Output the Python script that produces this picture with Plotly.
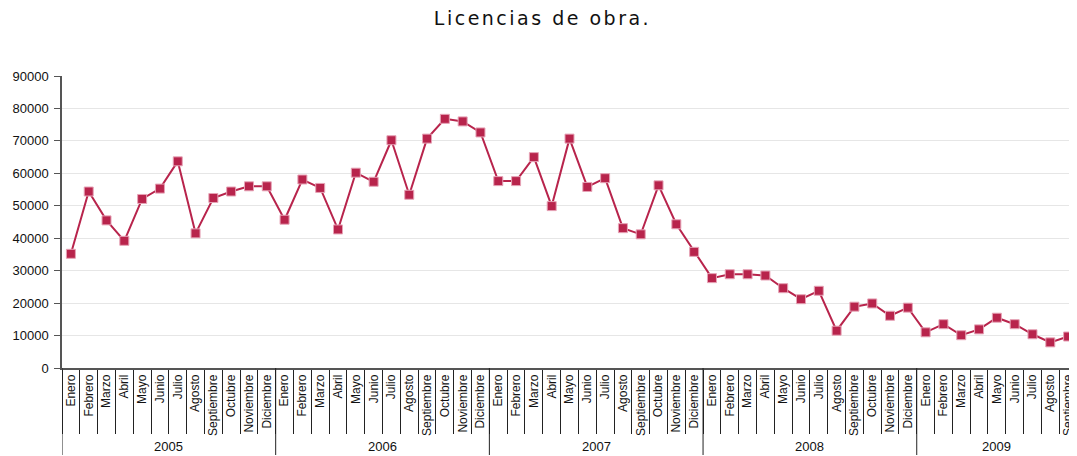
import plotly.graph_objects as go

months = ["Enero", "Febrero", "Marzo", "Abril", "Mayo", "Junio", "Julio",
          "Agosto", "Septiembre", "Octubre", "Noviembre", "Diciembre"]
years = ["2005", "2006", "2007", "2008", "2009"]

licencias_2005 = [35200, 54400, 45500, 39200, 52100, 55300, 63700, 41500, 52400, 54400, 56000, 56000]
licencias_2006 = [45700, 58100, 55500, 42700, 60200, 57400, 70200, 53400, 70700, 76800, 76000, 72600]
licencias_2007 = [57600, 57600, 65000, 49900, 70700, 55800, 58500, 43100, 41200, 56300, 44300, 35800]
licencias_2008 = [27700, 28900, 28900, 28500, 24600, 21200, 23800, 11500, 18900, 19900, 16100, 18600]
licencias_2009 = [11000, 13500, 10100, 11900, 15500, 13500, 10400, 7900, 9700]

series = [licencias_2005, licencias_2006, licencias_2007, licencias_2008, licencias_2009]

x_cats = []
x_months = []
y_vals = []
year_spans = []
for year, vals in zip(years, series):
    start = len(x_cats)
    for m, v in zip(months, vals):
        x_cats.append(year + " " + m)
        x_months.append(m)
        y_vals.append(v)
    year_spans.append((year, start, len(x_cats) - 1))

fig = go.Figure()
fig.add_trace(go.Scatter(
    x=x_cats, y=y_vals, mode="lines+markers",
    line=dict(color="#b8244c", width=2),
    marker=dict(symbol="square", size=9, color="#b8244c",
                line=dict(color="#e6a3b6", width=1)),
    showlegend=False))

# year labels and year separators under the month labels
for year, a, b in year_spans:
    fig.add_annotation(x=(a + b) / 2, y=0, xref="x", yref="paper", text=year,
                       showarrow=False, yanchor="middle", yshift=-78,
                       font=dict(family="Liberation Sans, Arial", size=13, color="#111"))
    fig.add_shape(type="line", xref="x", yref="paper", x0=a - 0.5, x1=a - 0.5,
                  y0=0, y1=-87 / 292, line=dict(color="#222", width=1))

# the html page has an 8px body margin, so the figure is sized to fit the window
fig.update_layout(
    title=dict(text='<span style="letter-spacing:2.5px">Licencias de obra.</span>',
               x=0.5, xref="container", y=1 - 10 / 448,
               yref="container", xanchor="center", yanchor="middle",
               font=dict(family="DejaVu Sans", size=19, color="#111")),
    width=1069, height=448,
    margin=dict(l=54, r=0, t=68, b=88),
    plot_bgcolor="white", paper_bgcolor="white",
    font=dict(family="Liberation Sans Narrow, Arial Narrow, Liberation Sans, Arial", size=12, color="#111"),
)
fig.update_yaxes(range=[0, 90000], dtick=10000, tickformat="d", showgrid=True, gridcolor="#e6e6e6",
                 showline=True, linecolor="#555", linewidth=1.5,
                 ticks="outside", ticklen=6, tickcolor="#555", ticklabelstandoff=3,
                 tickfont=dict(family="Liberation Sans, Arial", size=13),
                 zeroline=False, automargin=False)
fig.update_xaxes(type="category", range=[-0.5, len(y_vals) - 0.5],
                 tickmode="array", tickvals=x_cats, ticktext=x_months, tickson="boundaries",
                 showline=True, linecolor="#555", linewidth=1.5,
                 ticks="outside", ticklen=64, tickcolor="#222", tickangle=-90,
                 tickfont=dict(size=12), showgrid=False, automargin=False)

fig.write_html("out.html")
